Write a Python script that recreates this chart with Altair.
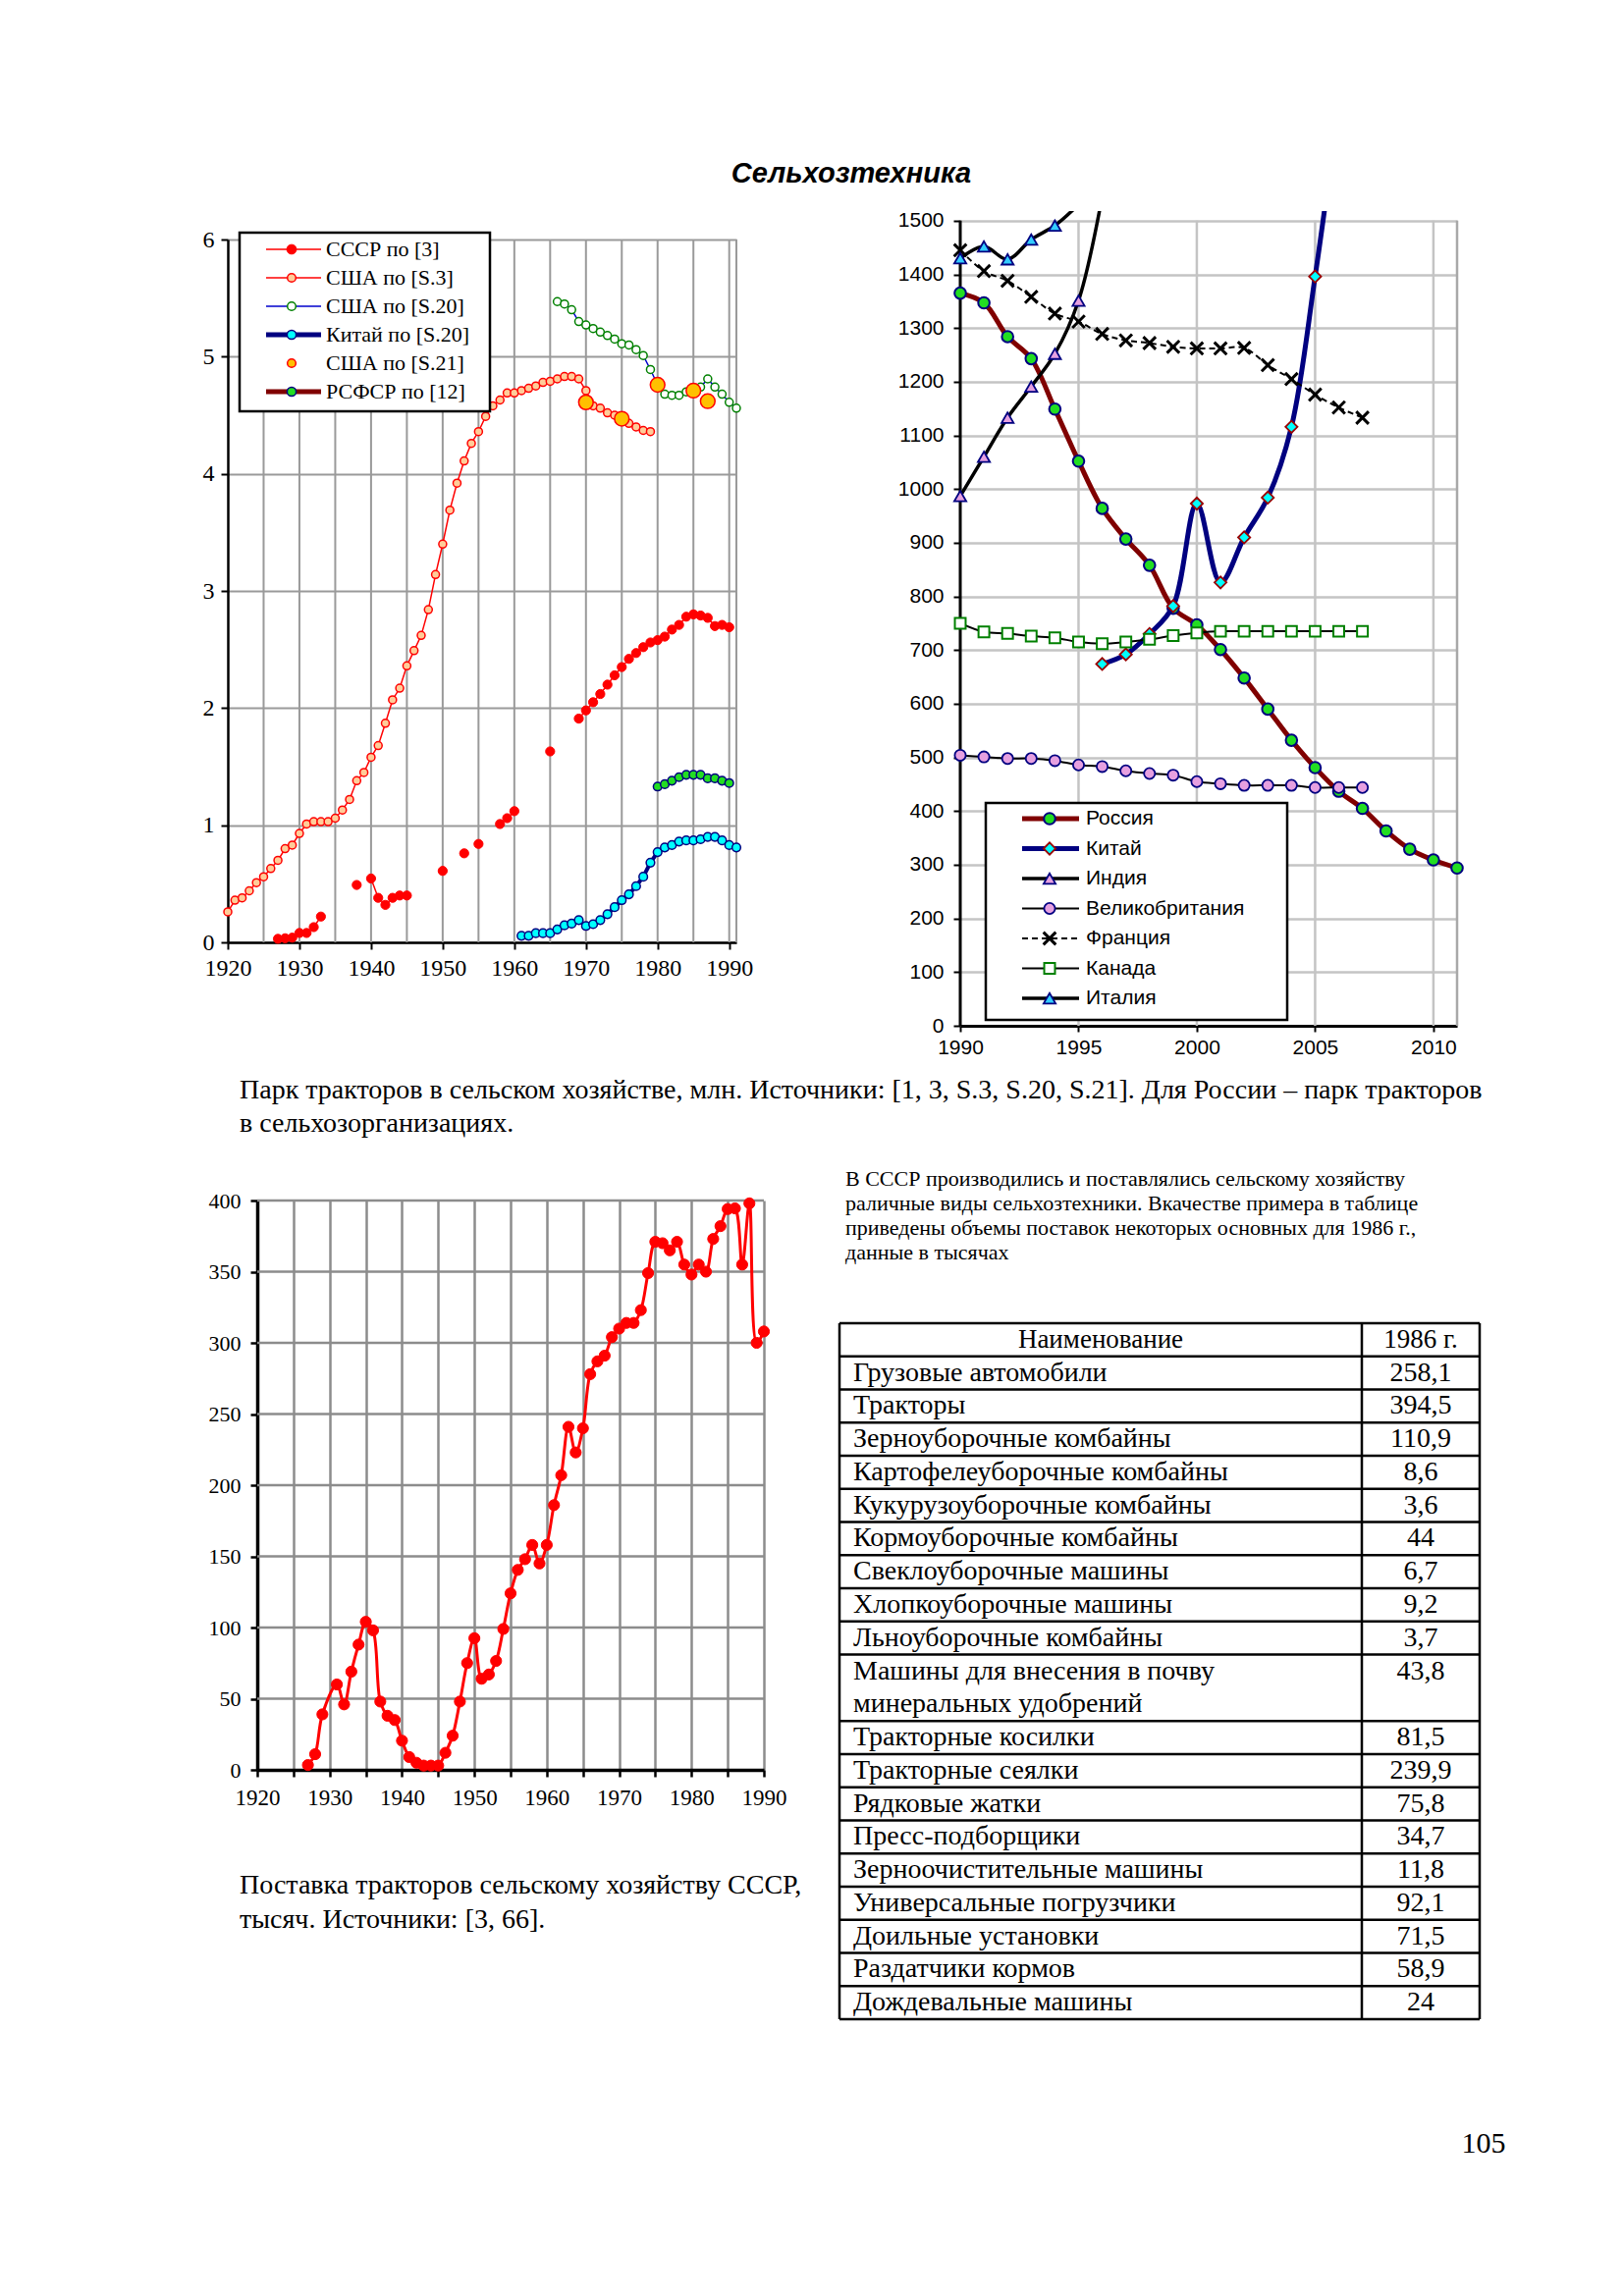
import altair as alt
import pandas as pd

SERIF = "Liberation Serif"
SANS = "Liberation Sans"

# ================= Top-left chart: tractor park, mln =================
ussr_years = [1927, 1928, 1929, 1930, 1931, 1932, 1933, 1938, 1940, 1941, 1942, 1943, 1944, 1945,
              1950, 1953, 1955, 1958, 1959, 1960, 1965,
              1969, 1970, 1971, 1972, 1973, 1974, 1975, 1976, 1977, 1978, 1979,
              1980, 1981, 1982, 1983, 1984, 1985, 1986, 1987, 1988, 1989, 1990]
ussr_vals = [0.03, 0.035, 0.04, 0.08, 0.08, 0.13, 0.22, 0.49, 0.545, 0.38, 0.32, 0.38, 0.40, 0.40,
             0.61, 0.76, 0.84, 1.01, 1.06, 1.12, 1.63,
             1.91, 1.98, 2.05, 2.12, 2.20, 2.28, 2.35, 2.42, 2.47, 2.52, 2.56,
             2.58, 2.61, 2.67, 2.71, 2.78, 2.80, 2.79, 2.77, 2.70, 2.71, 2.69]

us_s3_years = list(range(1920, 1980))
us_s3_vals = [0.26, 0.36, 0.38, 0.44, 0.51, 0.56, 0.63, 0.70, 0.80, 0.83,
              0.93, 1.01, 1.03, 1.03, 1.03, 1.06, 1.13, 1.22, 1.38, 1.45,
              1.58, 1.68, 1.87, 2.07, 2.17, 2.36, 2.49, 2.62, 2.84, 3.14,
              3.40, 3.69, 3.92, 4.11, 4.26, 4.36, 4.49, 4.58, 4.63, 4.69,
              4.69, 4.71, 4.73, 4.75, 4.78, 4.79, 4.81, 4.83, 4.83, 4.81,
              4.71, 4.58, 4.56, 4.52, 4.50, 4.47, 4.43, 4.40, 4.37, 4.36]

us_s20_years = list(range(1966, 1992))
us_s20_vals = [5.47, 5.45, 5.40, 5.30, 5.27, 5.24, 5.21, 5.18, 5.15, 5.11,
               5.10, 5.06, 5.01, 4.89, 4.76, 4.68, 4.67, 4.67, 4.70, 4.71,
               4.74, 4.81, 4.74, 4.68, 4.61, 4.56]

china_old_years = list(range(1961, 1992))
china_old_vals = [0.056, 0.056, 0.078, 0.078, 0.078, 0.11, 0.145, 0.16, 0.19, 0.14,
                  0.155, 0.19, 0.24, 0.30, 0.36, 0.41, 0.48, 0.56, 0.68, 0.77,
                  0.81, 0.83, 0.86, 0.87, 0.87, 0.88, 0.90, 0.90, 0.87, 0.83, 0.81]

us_s21_years = [1970, 1975, 1980, 1985, 1987]
us_s21_vals = [4.61, 4.47, 4.76, 4.71, 4.62]

rsfsr_years = list(range(1980, 1991))
rsfsr_vals = [1.33, 1.35, 1.38, 1.41, 1.43, 1.43, 1.43, 1.40, 1.40, 1.38, 1.36]

tl_labels = ["СССР по [3]", "США по [S.3]", "США по [S.20]", "Китай по [S.20]",
             "США по [S.21]", "РСФСР по [12]"]

# ================= Top-right chart =================
russia_years = list(range(1990, 2012))
russia_vals = [1365, 1347, 1284, 1243, 1149, 1052, 964, 907, 858, 778, 747,
               701, 648, 590, 532, 481, 437, 405, 363, 329, 309, 294]
china_years = list(range(1996, 2008))
china_vals = [674, 692, 730, 782, 973, 826, 910, 984, 1116, 1396, 1718, 2063]
india_years = list(range(1990, 1997))
india_vals = [987, 1060, 1133, 1191, 1252, 1351, 1545]
uk_years = list(range(1990, 2008))
uk_vals = [504, 501, 498, 498, 494, 486, 483, 475, 470, 467, 455, 451, 448, 448, 448, 444, 444, 444]
france_years = list(range(1990, 2008))
france_vals = [1445, 1406, 1388, 1358, 1327, 1312, 1289, 1277, 1272, 1265, 1262, 1262,
               1263, 1231, 1205, 1176, 1152, 1133]
canada_years = list(range(1990, 2008))
canada_vals = [750, 734, 731, 726, 723, 715, 712, 715, 720, 727, 732, 735, 735, 735, 735, 735, 735, 735]
italy_years = list(range(1990, 1996))
italy_vals = [1430, 1452, 1428, 1465, 1491, 1530]

tr_labels = ["Россия", "Китай", "Индия", "Великобритания", "Франция", "Канада", "Италия"]

# ================= Bottom-left chart: tractor supply, thousand =================
supply_years = [1927, 1928, 1929, 1931, 1932, 1933, 1934, 1935, 1936, 1937, 1938, 1939,
                1940, 1941, 1942, 1943, 1944, 1945, 1946, 1947, 1948, 1949,
                1950, 1951, 1952, 1953, 1954, 1955, 1956, 1957, 1958, 1959,
                1960, 1961, 1962, 1963, 1964, 1965, 1966, 1967, 1968, 1969,
                1970, 1971, 1972, 1973, 1974, 1975, 1976, 1977, 1978, 1979,
                1980, 1981, 1982, 1983, 1984, 1985, 1986, 1987, 1988, 1989, 1990]
supply_vals = [3.4, 11, 39, 60, 46, 69, 88, 104, 98, 48, 38, 35,
               20.5, 9, 5, 3, 3, 3, 12, 24, 48, 75,
               92.5, 64, 67, 76.5, 99, 124, 140.5, 148, 158, 145,
               158, 186, 207, 241, 223, 240, 278, 287, 291, 304,
               310, 314, 314, 323, 349, 371, 370, 365, 371, 355,
               348, 355, 350, 373, 382, 394, 394.5, 355, 398, 300, 308]

# ================= Table =================
table_header = ["Наименование", "1986 г."]
item_names = ["Грузовые автомобили", "Тракторы", "Зерноуборочные комбайны",
              "Картофелеуборочные комбайны", "Кукурузоуборочные комбайны",
              "Кормоуборочные комбайны", "Свеклоуборочные машины", "Хлопкоуборочные машины",
              "Льноуборочные комбайны", "Машины для внесения в почву\nминеральных удобрений",
              "Тракторные косилки", "Тракторные сеялки", "Рядковые жатки", "Пресс-подборщики",
              "Зерноочистительные машины", "Универсальные погрузчики", "Доильные установки",
              "Раздатчики кормов", "Дождевальные машины"]
item_vals = ["258,1", "394,5", "110,9", "8,6", "3,6", "44", "6,7", "9,2", "3,7", "43,8",
             "81,5", "239,9", "75,8", "34,7", "11,8", "92,1", "71,5", "58,9", "24"]

# ================= Texts =================
page_title = "Сельхозтехника"
caption_top = ("Парк тракторов в сельском хозяйстве, млн. Источники: [1, 3, S.3, S.20, S.21]. "
               "Для России – парк тракторов\nв сельхозорганизациях.")
caption_bottom = "Поставка тракторов сельскому хозяйству СССР,\nтысяч. Источники: [3, 66]."
paragraph = ("В СССР производились и поставлялись сельскому хозяйству\n"
             "раличные виды сельхозтехники. Вкачестве примера в таблице\n"
             "приведены объемы поставок некоторых основных для 1986 г.,\n"
             "данные в  тысячах")
page_number = "105"

# ================= helpers =================
RED = "#FF0000"
PEACH = "#FFCC99"
GREEN = "#008000"
NAVY = "#000080"
CYAN = "#00FFFF"
GOLD = "#FFC000"
LIME = "#22DD22"
MAROON = "#800000"
PINK = "#E6A0E0"
XSHAPE = "M-1,-1L1,1M-1,1L1,-1"

one = pd.DataFrame({"k": [0]})


def series_df(years, vals):
    seg, s = [], 0
    for i, y in enumerate(years):
        if i > 0 and y - years[i - 1] > 1:
            s += 1
        seg.append(s)
    return pd.DataFrame({"year": years, "value": vals, "seg": seg})


def text_layer(text, x, y, **kw):
    return alt.Chart(pd.DataFrame({"t": [text]})).mark_text(**kw).encode(
        x=alt.value(x), y=alt.value(y), text="t:N")


# ================= Top-left chart =================
TL_DY = 29                      # plot starts 29 px below the row top
W_TL, H_TL = 518, 716 + TL_DY
sx_tl = alt.Scale(domain=[1920, 1991], nice=False, zero=False)
sy_tl = alt.Scale(domain=[0, 6], nice=False, range=[H_TL, TL_DY])
ax_x_tl = alt.Axis(values=list(range(1920, 1991, 10)), format="d", title=None, grid=False,
                   domainColor="black", domainWidth=2.5, tickColor="black", tickSize=7, tickWidth=2,
                   labelFont=SERIF, labelFontSize=24, labelColor="black", labelPadding=7,
                   labelFlush=False, labelOverlap=False)
ax_y_tl = alt.Axis(values=list(range(0, 7)), title=None, grid=True, gridColor="#9a9a9a", gridWidth=2,
                   domainColor="black", domainWidth=2.5, tickColor="black", tickSize=7, tickWidth=2,
                   labelFont=SERIF, labelFontSize=24, labelColor="black", labelPadding=7,
                   labelFlush=False)
X_tl = alt.X("year:Q", scale=sx_tl, axis=ax_x_tl)
Y_tl = alt.Y("value:Q", scale=sy_tl, axis=ax_y_tl)

tl_series = [
    dict(label=tl_labels[0], years=ussr_years, vals=ussr_vals,
         line=dict(color=RED, strokeWidth=1.5),
         pt=dict(shape="circle", filled=True, fill=RED, stroke=RED, strokeWidth=1, size=85)),
    dict(label=tl_labels[1], years=us_s3_years, vals=us_s3_vals,
         line=dict(color=RED, strokeWidth=1.5),
         pt=dict(shape="circle", filled=True, fill=PEACH, stroke=RED, strokeWidth=1.5, size=64)),
    dict(label=tl_labels[2], years=us_s20_years, vals=us_s20_vals,
         line=dict(color="#0000CC", strokeWidth=1.5),
         pt=dict(shape="circle", filled=True, fill="white", stroke=GREEN, strokeWidth=1.5, size=64)),
    dict(label=tl_labels[3], years=china_old_years, vals=china_old_vals,
         line=dict(color=NAVY, strokeWidth=4),
         pt=dict(shape="circle", filled=True, fill=CYAN, stroke=NAVY, strokeWidth=1.5, size=75)),
    dict(label=tl_labels[4], years=us_s21_years, vals=us_s21_vals, line=None,
         pt=dict(shape="circle", filled=True, fill=GOLD, stroke=RED, strokeWidth=1.5, size=220),
         legend_size=75),
    dict(label=tl_labels[5], years=rsfsr_years, vals=rsfsr_vals,
         line=dict(color=MAROON, strokeWidth=4),
         pt=dict(shape="circle", filled=True, fill=LIME, stroke=NAVY, strokeWidth=1.5, size=75)),
]

tl_layers = [
    alt.Chart(pd.DataFrame({"year": list(range(1925, 1991, 5)) + [1991]})).mark_rule(
        color="#9a9a9a", strokeWidth=2).encode(
        x=X_tl, y=alt.YDatum(0, scale=sy_tl, axis=ax_y_tl), y2=alt.Y2Datum(6))
]
for s in tl_series:
    df = series_df(s["years"], s["vals"])
    if s["line"]:
        tl_layers.append(alt.Chart(df).mark_line(**s["line"]).encode(x=X_tl, y=Y_tl, detail="seg:N"))
    tl_layers.append(alt.Chart(df).mark_point(opacity=1, **s["pt"]).encode(x=X_tl, y=Y_tl))

# legend (top-left)
tl_layers.append(alt.Chart(one).mark_rect(fill="white", stroke="black", strokeWidth=2.5).encode(
    x=alt.value(12), x2=alt.value(267), y=alt.value(TL_DY - 7), y2=alt.value(TL_DY + 175)))
for i, s in enumerate(tl_series):
    yy = TL_DY + 10 + 29 * i
    if s["line"]:
        lp = dict(s["line"])
        lp["strokeWidth"] = lp["strokeWidth"] + (1 if lp["strokeWidth"] > 3 else 0)
        tl_layers.append(alt.Chart(one).mark_rule(**lp).encode(
            x=alt.value(39), x2=alt.value(95), y=alt.value(yy)))
    pp = dict(s["pt"])
    pp["size"] = s.get("legend_size", pp["size"] + 10)
    tl_layers.append(alt.Chart(one).mark_point(opacity=1, **pp).encode(x=alt.value(65), y=alt.value(yy)))
    tl_layers.append(text_layer(s["label"], 100, yy, align="left", baseline="middle",
                                font=SERIF, fontSize=22, color="black"))

# page title, caption (first line centre at page y 1110), layout anchor
tl_layers.append(text_layer(page_title, 635, TL_DY - 67, align="center", baseline="middle", font=SANS,
                            fontSize=29, fontWeight="bold", fontStyle="italic", color="black"))
tl_layers.append(text_layer(caption_top, 12, 896, align="left", baseline="middle", font=SERIF,
                            fontSize=28, lineBreak="\n", lineHeight=34, color="black"))
tl_layers.append(alt.Chart(one).mark_point(filled=True, fill="white", size=1, opacity=1).encode(
    x=alt.value(-60), y=alt.value(TL_DY - 110)))

tl_chart = alt.layer(*tl_layers).properties(width=W_TL, height=H_TL)

# ================= Top-right chart =================
W_TR, H_TR = 506, 830
sx_tr = alt.Scale(domain=[1990, 2011], nice=False, zero=False)
sy_tr = alt.Scale(domain=[0, 1518], nice=False)
ax_x_tr = alt.Axis(values=list(range(1990, 2011, 5)), format="d", title=None, grid=False,
                   domainColor="black", domainWidth=3, tickColor="black", tickSize=6, tickWidth=2,
                   labelFont=SANS, labelFontSize=21, labelColor="black", labelPadding=5,
                   labelFlush=False, labelOverlap=False)
ax_y_tr = alt.Axis(values=list(range(0, 1501, 100)), format="d", title=None, grid=True,
                   gridColor="#c4c4c4", gridWidth=2.5, domain=False,
                   tickColor="black", tickSize=7, tickWidth=2,
                   labelFont=SANS, labelFontSize=21, labelColor="black", labelPadding=10,
                   labelFlush=False)
X_tr = alt.X("year:Q", scale=sx_tr, axis=ax_x_tr)
Y_tr = alt.Y("value:Q", scale=sy_tr, axis=ax_y_tr)

tr_series = [
    dict(label=tr_labels[0], years=russia_years, vals=russia_vals,
         line=dict(color=MAROON, strokeWidth=5),
         pt=dict(shape="circle", filled=True, fill=LIME, stroke=NAVY, strokeWidth=2, size=135)),
    dict(label=tr_labels[1], years=china_years, vals=china_vals,
         line=dict(color=NAVY, strokeWidth=5),
         pt=dict(shape="diamond", filled=True, fill=CYAN, stroke="#990000", strokeWidth=1.8, size=150)),
    dict(label=tr_labels[2], years=india_years, vals=india_vals,
         line=dict(color="black", strokeWidth=3.5),
         pt=dict(shape="triangle-up", filled=True, fill=PINK, stroke=NAVY, strokeWidth=1.8, size=150)),
    dict(label=tr_labels[3], years=uk_years, vals=uk_vals,
         line=dict(color="black", strokeWidth=2),
         pt=dict(shape="circle", filled=True, fill=PINK, stroke=NAVY, strokeWidth=1.8, size=125)),
    dict(label=tr_labels[4], years=france_years, vals=france_vals,
         line=dict(color="black", strokeWidth=2, strokeDash=[6, 4]),
         pt=dict(shape=XSHAPE, filled=False, stroke="black", strokeWidth=3, size=160)),
    dict(label=tr_labels[5], years=canada_years, vals=canada_vals,
         line=dict(color="black", strokeWidth=2),
         pt=dict(shape="square", filled=True, fill="white", stroke=GREEN, strokeWidth=2, size=120)),
    dict(label=tr_labels[6], years=italy_years, vals=italy_vals,
         line=dict(color="black", strokeWidth=3.5),
         pt=dict(shape="triangle-up", filled=True, fill="#33CCFF", stroke=NAVY, strokeWidth=1.8, size=150)),
]

tr_layers = [
    alt.Chart(pd.DataFrame({"year": list(range(1995, 2011, 5))})).mark_rule(
        color="#c4c4c4", strokeWidth=2.5).encode(
        x=X_tr, y=alt.YDatum(0, scale=sy_tr, axis=ax_y_tr), y2=alt.Y2Datum(1500)),
    alt.Chart(pd.DataFrame({"year": [2011]})).mark_rule(color="#a8a8a8", strokeWidth=2.5).encode(
        x=X_tr, y=alt.YDatum(0, scale=sy_tr, axis=ax_y_tr), y2=alt.Y2Datum(1500)),
    alt.Chart(pd.DataFrame({"year": [1990]})).mark_rule(color="black", strokeWidth=3).encode(
        x=X_tr, y=alt.YDatum(0, scale=sy_tr, axis=ax_y_tr), y2=alt.Y2Datum(1500)),
]
for s in tr_series:
    df = series_df(s["years"], s["vals"])
    tr_layers.append(alt.Chart(df).mark_line(clip=True, interpolate="catmull-rom", **s["line"]).encode(
        x=X_tr, y=Y_tr))
    tr_layers.append(alt.Chart(df).transform_filter(alt.datum.value <= 1500).mark_point(
        opacity=1, **s["pt"]).encode(x=X_tr, y=Y_tr))

tr_layers.append(alt.Chart(one).mark_rect(fill="white", stroke="black", strokeWidth=2.5).encode(
    x=alt.value(26), x2=alt.value(333), y=alt.value(603), y2=alt.value(824)))
for i, s in enumerate(tr_series):
    yy = 619 + 30.5 * i
    tr_layers.append(alt.Chart(one).mark_rule(**s["line"]).encode(
        x=alt.value(63), x2=alt.value(121), y=alt.value(yy)))
    tr_layers.append(alt.Chart(one).mark_point(opacity=1, **s["pt"]).encode(
        x=alt.value(91), y=alt.value(yy)))
    tr_layers.append(text_layer(s["label"], 128, yy, align="left", baseline="middle",
                                font=SANS, fontSize=21, color="black"))

tr_chart = alt.layer(*tr_layers).properties(width=W_TR, height=H_TR)

# ================= Bottom-left chart =================
BL_DX = 30                      # plot starts 30 px right of the column's left edge
W_BL, H_BL = 516 + BL_DX, 580
sx_bl = alt.Scale(domain=[1920, 1990], nice=False, zero=False, range=[BL_DX, W_BL])
sy_bl = alt.Scale(domain=[0, 400], nice=False)
ax_x_bl = alt.Axis(values=list(range(1920, 1991, 5)), format="d", title=None, grid=True,
                   gridColor="#8c8c8c", gridWidth=2.5,
                   labelExpr="datum.value % 10 === 0 ? datum.label : ''",
                   domainColor="black", domainWidth=3.5, tickColor="black", tickSize=7, tickWidth=2.5,
                   labelFont=SERIF, labelFontSize=23, labelColor="black", labelPadding=10,
                   labelFlush=False, labelOverlap=False)
ax_y_bl = alt.Axis(values=list(range(0, 401, 50)), title=None, grid=False, offset=-BL_DX,
                   domainColor="black", domainWidth=3.5, tickColor="black", tickSize=7, tickWidth=2.5,
                   labelFont=SERIF, labelFontSize=22, labelColor="black", labelPadding=10,
                   labelFlush=False)
X_bl = alt.X("year:Q", scale=sx_bl, axis=ax_x_bl)
Y_bl = alt.Y("value:Q", scale=sy_bl, axis=ax_y_bl)
supply_df = series_df(supply_years, supply_vals)

bl_chart = alt.layer(
    alt.Chart(pd.DataFrame({"value": list(range(50, 401, 50))})).mark_rule(
        color="#8c8c8c", strokeWidth=2.5).encode(
        y=Y_bl, x=alt.XDatum(1920, scale=sx_bl, axis=ax_x_bl), x2=alt.X2Datum(1990)),
    alt.Chart(supply_df).mark_line(color=RED, strokeWidth=3, interpolate="catmull-rom").encode(x=X_bl, y=Y_bl),
    alt.Chart(supply_df).mark_point(shape="circle", filled=True, fill=RED, stroke=RED, strokeWidth=1,
                                    size=125, opacity=1).encode(x=X_bl, y=Y_bl),
    text_layer(caption_bottom, BL_DX - 18, 698, align="left", baseline="middle", font=SERIF,
               fontSize=28, lineBreak="\n", lineHeight=35, color="black"),
).properties(width=W_BL, height=H_BL)

# ================= Table panel =================
T_DX = -123                     # table starts 123 px left of the column's left edge
T_W = 652
W_T, H_T = 506, 834
name_rows, val_rows, bounds = [], [], [0, 1]
top = 1
for name, val in zip(item_names, item_vals):
    lines = name.split("\n")
    for k, ln in enumerate(lines):
        name_rows.append({"t": ln, "ym": top + k + 0.5})
    val_rows.append({"t": val, "ym": top + 0.5})
    top += len(lines)
    bounds.append(top)
n_units = top
sy_t = alt.Scale(domain=[0, n_units], range=[125, 834])
COL1 = 532
TFS = 28

table_layers = [
    alt.Chart(pd.DataFrame({"b": bounds})).mark_rule(color="black", strokeWidth=2.5).encode(
        y=alt.Y("b:Q", scale=sy_t, axis=None), x=alt.value(T_DX), x2=alt.value(T_DX + T_W)),
]
for xv in [0, COL1, T_W]:
    table_layers.append(alt.Chart(one).mark_rule(color="black", strokeWidth=2.5).encode(
        x=alt.value(T_DX + xv), y=alt.YDatum(0, scale=sy_t, axis=None), y2=alt.Y2Datum(n_units)))
table_layers.append(alt.Chart(pd.DataFrame({"t": [table_header[0]], "ym": [0.5]})).mark_text(
    align="center", baseline="middle", font=SERIF, fontSize=TFS - 1, color="black").encode(
    x=alt.value(T_DX + COL1 / 2), y=alt.Y("ym:Q", scale=sy_t, axis=None), text="t:N"))
table_layers.append(alt.Chart(pd.DataFrame({"t": [table_header[1]], "ym": [0.5]})).mark_text(
    align="center", baseline="middle", font=SERIF, fontSize=TFS - 1, color="black").encode(
    x=alt.value(T_DX + (COL1 + T_W) / 2), y=alt.Y("ym:Q", scale=sy_t, axis=None), text="t:N"))
table_layers.append(alt.Chart(pd.DataFrame(name_rows)).mark_text(
    align="left", baseline="middle", font=SERIF, fontSize=TFS, color="black").encode(
    x=alt.value(T_DX + 14), y=alt.Y("ym:Q", scale=sy_t, axis=None), text="t:N"))
table_layers.append(alt.Chart(pd.DataFrame(val_rows)).mark_text(
    align="center", baseline="middle", font=SERIF, fontSize=TFS, color="black").encode(
    x=alt.value(T_DX + (COL1 + T_W) / 2), y=alt.Y("ym:Q", scale=sy_t, axis=None), text="t:N"))
table_layers.append(text_layer(paragraph, T_DX + 6, -22, align="left", baseline="middle", font=SERIF,
                               fontSize=22, lineBreak="\n", lineHeight=25, color="black"))
table_layers.append(text_layer(page_number, T_DX + 656, 961, align="center", baseline="middle",
                               font=SERIF, fontSize=30, color="black"))

table_chart = alt.layer(*table_layers).properties(width=W_T, height=H_T)

# ================= Page layout =================
chart = alt.concat(
    tl_chart, tr_chart, bl_chart, table_chart,
    columns=2, spacing={"row": 178, "column": 200}, bounds="flush", align="each",
).properties(
    padding={"left": 163, "top": 125, "right": 10, "bottom": 10},
    background="white",
).configure_view(stroke="transparent", strokeWidth=0)

chart.save("out.html", embed_options={"renderer": "svg", "actions": False})
